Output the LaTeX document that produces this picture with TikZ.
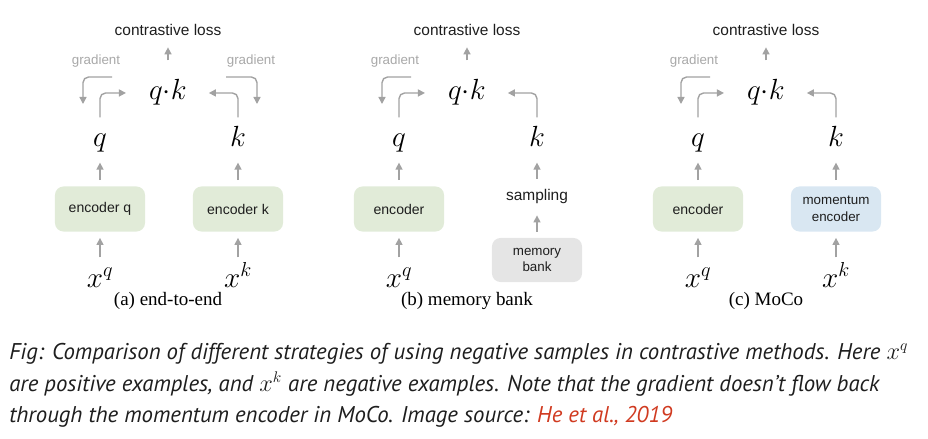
\documentclass[tikz,border=0pt]{standalone}
\usepackage[no-math]{fontspec}
\setmainfont{Liberation Serif}
\setsansfont{Liberation Sans}
\newfontfamily\capfont{PT Sans}
\usetikzlibrary{arrows.meta}
\usepackage{xcolor}
\definecolor{encgreen}{RGB}{225, 235, 216}
\definecolor{encblue}{RGB}{217, 231, 242}
\definecolor{bankgray}{RGB}{229, 229, 229}
\definecolor{arrowgray}{RGB}{162, 162, 162}
\definecolor{gradgray}{RGB}{168, 168, 168}
\definecolor{inkblack}{RGB}{30, 30, 30}
\definecolor{linkred}{RGB}{208, 58, 32}

\begin{document}
\begin{tikzpicture}[x=0.025cm, y=-0.025cm,
        flow/.style={draw=arrowgray, line width=1pt, rounded corners=4pt, -{Triangle[length=5pt, width=5pt]}},
        mathlbl/.style={anchor=base, inner sep=0pt, outer sep=0.25cm, text height=14pt, text depth=4pt, font=\fontsize{20}{24}\selectfont},
        losstxt/.style={anchor=base, inner sep=0pt, outer sep=0.28cm, text=inkblack, font=\sffamily\fontsize{11}{13}\selectfont},
        gradtxt/.style={anchor=base, inner sep=0pt, text=gradgray, font=\sffamily\fontsize{9.5}{11}\selectfont},
        encbox/.style={rounded corners=6pt, minimum width=2.25cm, minimum height=1.125cm, inner sep=0pt, outer sep=0.16cm, align=center, text=inkblack, font=\sffamily\fontsize{10}{12.5}\selectfont},
        subcap/.style={anchor=base, inner sep=0pt, font=\fontsize{13.5}{16}\selectfont},
        capline/.style={anchor=base west, inner sep=0pt, text=inkblack, font=\capfont\itshape\fontsize{16.2}{19}\selectfont}]
    \useasboundingbox (0,0) rectangle (928,439);

    % Parts every panel shares
    \foreach \p/\dx/\enc/\sub in {a/0/encoder q/{(a) end-to-end}, b/299/encoder/{(b) memory bank}, c/598/encoder/{(c) MoCo}} {
        \node[losstxt] (loss\p) at (168+\dx, 36) {contrastive loss};
        \node[mathlbl] (qk\p) at (168+\dx, 100) {$q{\cdot}k$};
        \node[mathlbl] (q\p) at (100+\dx, 147) {$q$};
        \node[mathlbl] (k\p) at (238+\dx, 147) {$k$};
        \node[encbox, fill=encgreen] (encq\p) at (100+\dx, 209) {\enc};
        \node[mathlbl] (xq\p) at (100+\dx, 287) {$x^q$};
        \node[subcap] (cap\p) at (168+\dx, 306) {\sub};
        \node[gradtxt] (gradl\p) at (96+\dx, 65) {gradient};
        \coordinate (gsl\p) at (112+\dx, 77);
        \coordinate (gel\p) at (83+\dx, 104);

        \draw[flow, shorten <=0.25cm] (qk\p) -- (loss\p);
        \draw[flow, shorten >=0.33cm] (q\p.north) |- (qk\p.west);
        \draw[flow, shorten >=0.3cm] (k\p.north) |- (qk\p.east);
        \draw[flow] (encq\p) -- (q\p);
        \draw[flow] (xq\p) -- (encq\p);
        \draw[flow] (gsl\p) -| (gel\p);
    }

    % (a) end-to-end
    \node[encbox, fill=encgreen] (encka) at (238, 209) {encoder k};
    \node[mathlbl] (xka) at (238, 287) {$x^k$};
    \node[gradtxt] (gradra) at (251, 65) {gradient};
    \coordinate (gsra) at (226, 77);
    \coordinate (gera) at (257, 104);
    \draw[flow] (encka) -- (ka);
    \draw[flow] (xka) -- (encka);
    \draw[flow] (gsra) -| (gera);

    % (b) memory bank
    \node[losstxt] (sampling) at (537, 201) {sampling};
    \node[encbox, fill=bankgray, minimum height=1.1cm, font=\sffamily\fontsize{9.5}{12}\selectfont] (bank) at (537, 260) {memory\\bank};
    \draw[flow] (sampling) -- (kb);
    \draw[flow] (bank) -- (sampling);

    % (c) MoCo
    \node[encbox, fill=encblue, font=\sffamily\fontsize{9.5}{12}\selectfont] (momenc) at (836, 209) {momentum\\encoder};
    \node[mathlbl] (xkc) at (836, 287) {$x^k$};
    \draw[flow] (momenc) -- (kc);
    \draw[flow] (xkc) -- (momenc);

    % Figure caption
    \node[capline] (line1) at (9, 359) {Fig: Comparison of different strategies of using negative samples in contrastive methods. Here $x^q$};
    \node[capline] (line2) at (9, 391) {are positive examples, and $x^k$ are negative examples. Note that the gradient doesn’t flow back};
    \node[capline] (line3) at (9, 422) {through the momentum encoder in MoCo. Image source: \textcolor{linkred}{He et al., 2019}};

\end{tikzpicture}
\end{document}
